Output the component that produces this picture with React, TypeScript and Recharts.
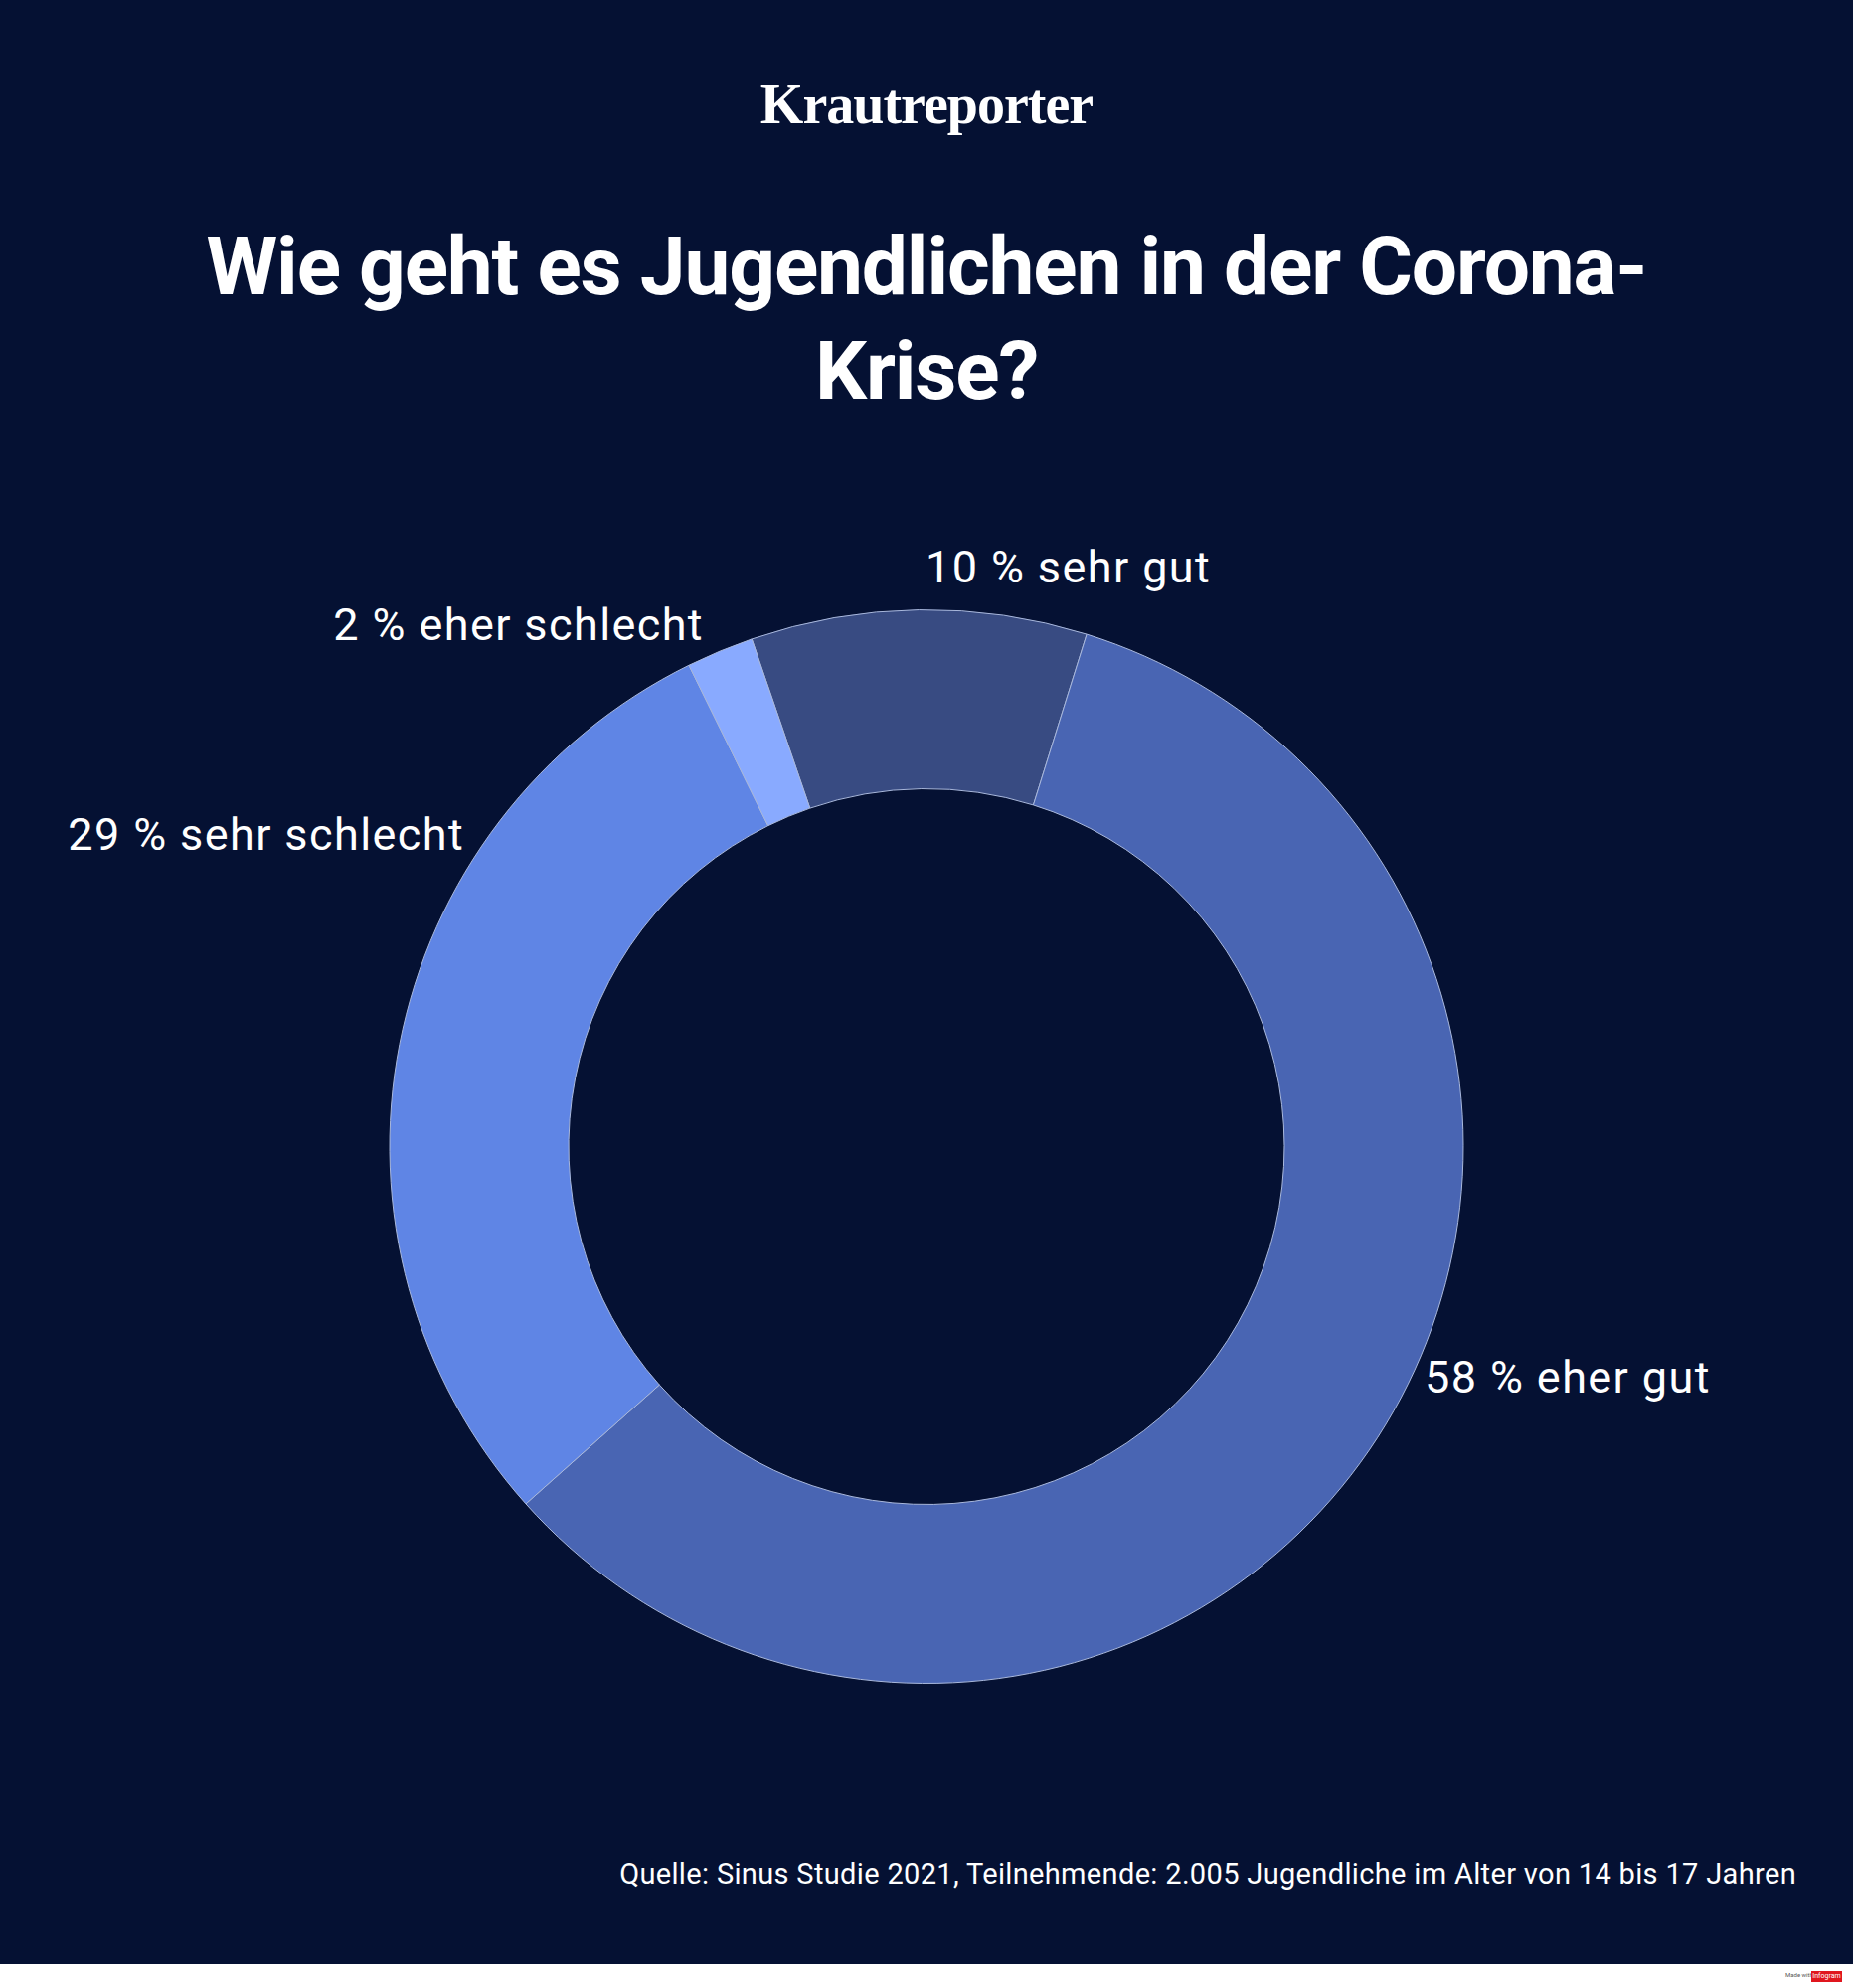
import { PieChart, Pie, Cell } from "recharts";

const categories = ["sehr gut", "eher gut", "sehr schlecht", "eher schlecht"];
const shares = [10, 58, 29, 2];
const sliceColors = ["#384b82", "#4965b3", "#5f85e5", "#89aaff"];

const BG = "#051133";
const FONT = "Roboto, sans-serif";

// label spots relative to the ring centre, the source does not put them on the mid angle
const labelSpots = [
  { dx: -1, dy: -583, anchor: "start" },
  { dx: 501, dy: 232, anchor: "start" },
  { dx: -465, dy: -314, anchor: "end" },
  { dx: -224, dy: -525, anchor: "end" },
];

const data = categories.map((name, i) => ({ name, value: shares[i] }));

const renderLabel = (props: any) => {
  const spot = labelSpots[props.index];
  return (
    <text
      x={props.cx + spot.dx}
      y={props.cy + spot.dy}
      textAnchor={spot.anchor}
      dominantBaseline="central"
      fill="#ffffff"
      fontFamily={FONT}
      fontSize={45}
      letterSpacing={1.4}
    >
      {`${shares[props.index]} % ${categories[props.index]}`}
    </text>
  );
};

export default function App() {
  return (
    <div style={{ position: "absolute", left: 0, top: 0, width: 1864, height: 2000, background: "#fff", overflow: "hidden" }}>
      <div style={{ position: "absolute", left: 0, top: 0, width: 1864, height: 1976, background: BG }}>
        <PieChart width={1864} height={1976} margin={{ top: 0, right: 0, bottom: 0, left: 0 }}>
          <Pie
            data={data}
            dataKey="value"
            cx={932}
            cy={1153.5}
            innerRadius={360}
            outerRadius={540}
            startAngle={109}
            endAngle={-251}
            paddingAngle={0}
            stroke="#a9b8dc"
            strokeWidth={1}
            label={renderLabel}
            labelLine={false}
            isAnimationActive={false}
          >
            {data.map((d, i) => (
              <Cell key={d.name} fill={sliceColors[i]} />
            ))}
          </Pie>
        </PieChart>
      </div>
      <div style={{ position: "absolute", left: 0, top: 69, width: 1864, textAlign: "center", color: "#fff", fontFamily: "'Liberation Serif', serif", fontWeight: 700, fontSize: 56, letterSpacing: -1, lineHeight: "72px" }}>
        Krautreporter
      </div>
      <div style={{ position: "absolute", left: 0, top: 216, width: 1864, textAlign: "center", color: "#fff", fontFamily: FONT, fontWeight: 700, fontSize: 82, letterSpacing: -1.15, lineHeight: "105px" }}>
        Wie geht es Jugendlichen in der Corona-
        <br />
        Krise?
      </div>
      <div style={{ position: "absolute", right: 57, top: 1866, color: "#fff", fontFamily: FONT, fontSize: 29, letterSpacing: 0.34, lineHeight: "38px", whiteSpace: "nowrap" }}>
        Quelle: Sinus Studie 2021, Teilnehmende: 2.005 Jugendliche im Alter von 14 bis 17 Jahren
      </div>
      <div style={{ position: "absolute", left: 1796, top: 1983, fontFamily: FONT, fontSize: 6, lineHeight: "8px", color: "#555" }}>Made with</div>
      <div style={{ position: "absolute", left: 1822, top: 1983, width: 31, height: 11, background: "#e0161e", color: "#fff", fontFamily: FONT, fontSize: 7, lineHeight: "11px", textAlign: "center" }}>
        Infogram
      </div>
    </div>
  );
}
